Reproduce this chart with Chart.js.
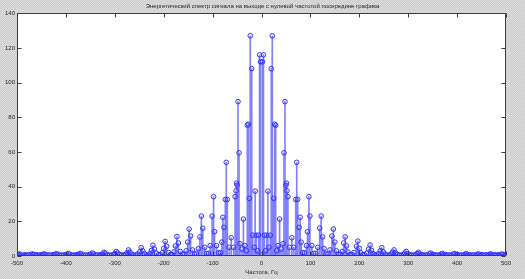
<!DOCTYPE html>
<html>
<head>
<meta charset="utf-8">
<script src="https://cdn.jsdelivr.net/npm/chart.js@4.4.1/dist/chart.umd.min.js"></script>
<style>
html, body { margin: 0; padding: 0; }
body {
    width: 525px; height: 279px; overflow: hidden;
    background: repeating-conic-gradient(#cdcdcd 0 25%, #dcdcdc 0 50%) 0 0/2px 2px;
}
#wrap { position: relative; width: 525px; height: 279px; }
</style>
</head>
<body>
<div id="wrap"><canvas id="spectrum"></canvas></div>
<script>
// frequency of each stem, Hz (one row per spectral lobe)
const freqHz = [
    -500, -497, -494, -491, -487, -484,
    -480, -476, -472, -469, -466, -462, -459,
    -455, -451, -448, -445, -442, -438, -434,
    -430, -426, -423, -420, -417, -413, -409,
    -405, -401, -398, -395, -392, -388, -384,
    -380, -377, -374, -371, -368, -364, -360,
    -356, -352, -349, -346, -343, -339, -335,
    -331, -328, -325, -322, -319, -315, -311,
    -307, -303, -300, -297, -294, -290, -286,
    -282, -278, -275, -272, -269, -265, -261,
    -257, -253, -249, -246, -243, -239, -235,
    -232, -228, -225, -222, -219, -215, -211,
    -207, -203, -200, -197, -194, -190, -186,
    -183, -179, -176, -173, -170, -166, -162,
    -158, -154, -151, -148, -145, -141, -137,
    -133, -129, -126, -123, -120, -116, -112,
    -108, -105, -101, -98, -96, -92, -88,
    -84, -81, -79, -77, -74, -72, -70, -66, -62,
    -57, -54, -52, -51, -50, -48, -46, -44, -40,
    -37, -34, -31,
    -29, -27, -25, -23, -20, -18, -15,
    -13, -11, -8, -6, -4, -2, 0,
    2, 4, 6, 8, 11, 13,
    15, 18, 20, 22, 25, 27, 29,
    31, 34, 37,
    40, 44, 46, 48, 50, 51, 52, 54, 57,
    62, 66, 70, 72, 74, 77, 79, 81, 84,
    88, 92, 94, 97, 99, 103, 107,
    111, 115, 119, 122, 125, 128, 132,
    136, 140, 144, 147, 150, 153, 157,
    161, 165, 168, 171, 174, 177, 181,
    185, 189, 194, 197, 200, 203, 207,
    211, 215, 219, 222, 225, 228, 232,
    235, 239, 243, 246, 249, 253, 257,
    261, 265, 268, 271, 274, 278, 282,
    286, 290, 293, 296, 299, 303, 307,
    311, 315, 318, 321, 324, 328, 331,
    335, 339, 343, 346, 349, 352, 356,
    360, 364, 367, 370, 373, 377, 380,
    384, 388, 392, 395, 398, 401, 405,
    409, 413, 416, 419, 422, 426, 430,
    434, 438, 441, 444, 447, 451, 455,
    459, 463, 466, 469, 472, 476, 480,
    484, 487, 491, 494, 497, 500
];

// energy at each of those frequencies
const energy = [
    0.4, 0.9, 1.1, 0.4, 0.3, 0.8,
    0.3, 0.8, 0.5, 1.2, 0.9, 0.3, 0.7,
    0.3, 0.8, 0.5, 1.2, 0.9, 0.3, 0.7,
    0.3, 0.8, 0.6, 1.3, 1.0, 0.4, 0.6,
    0.4, 0.8, 0.6, 1.4, 1.0, 0.4, 0.6,
    0.4, 0.8, 0.7, 1.5, 1.1, 0.4, 0.6,
    0.4, 0.8, 0.9, 1.7, 1.2, 0.5, 0.6,
    0.4, 0.8, 1.1, 2.1, 1.4, 0.6, 0.6,
    0.4, 0.8, 1.4, 2.6, 1.7, 0.8, 0.5,
    0.5, 0.9, 1.8, 3.5, 2.2, 1.0, 0.5,
    0.5, 1.1, 2.4, 4.8, 3.0, 1.3, 0.6,
    0.6, 1.4, 3.2, 6.2, 4.0, 1.6, 0.7,
    0.7, 1.8, 4.4, 8.4, 5.6, 2.0, 0.8,
    0.8, 2.3, 5.8, 11.2, 7.5, 2.6, 1.0,
    1.0, 3.0, 8.0, 15.5, 11.5, 3.5, 1.2,
    1.2, 4.2, 11.0, 23.0, 16.0, 5.0, 1.5,
    1.5, 6.0, 23.0, 34.2, 14.0, 6.0, 1.8,
    2.0, 8.0, 22.3, 16.5, 32.6, 54.0, 32.6, 5.0, 10.5,
    5.0, 34.2, 37.6, 42.0, 40.8, 89.0, 59.5, 7.1, 4.0,
    21.3, 6.0, 3.0,
    75.4, 76.0, 33.2, 127.0, 108.0, 12.0, 5.0,
    37.4, 12.0, 3.0, 12.0, 116.0, 112.0, 0.5,
    112.0, 116.0, 12.0, 3.0, 12.0, 37.4,
    5.0, 12.0, 108.0, 127.0, 33.2, 76.0, 75.4,
    3.0, 6.0, 21.3,
    4.0, 7.1, 59.5, 89.0, 40.8, 42.0, 37.6, 34.2, 5.0,
    10.5, 5.0, 32.6, 54.0, 32.6, 16.5, 22.3, 8.0, 2.0,
    1.8, 6.0, 14.0, 34.2, 23.0, 6.0, 1.5,
    1.5, 5.0, 16.0, 23.0, 11.0, 4.2, 1.2,
    1.2, 3.5, 11.5, 15.5, 8.0, 3.0, 1.0,
    1.0, 2.6, 7.5, 11.0, 5.8, 2.3, 0.8,
    0.8, 2.0, 5.6, 8.6, 4.4, 1.8, 0.7,
    0.7, 1.6, 4.0, 6.3, 3.2, 1.4, 0.6,
    0.6, 1.3, 3.0, 4.8, 2.4, 1.1, 0.5,
    0.5, 1.0, 2.2, 3.5, 1.8, 0.9, 0.5,
    0.5, 0.8, 1.7, 2.6, 1.4, 0.8, 0.4,
    0.6, 0.6, 1.4, 2.1, 1.1, 0.8, 0.4,
    0.6, 0.5, 1.2, 1.7, 0.9, 0.8, 0.4,
    0.6, 0.4, 1.1, 1.5, 0.7, 0.8, 0.4,
    0.6, 0.4, 1.0, 1.4, 0.6, 0.8, 0.4,
    0.6, 0.4, 1.0, 1.3, 0.6, 0.8, 0.3,
    0.7, 0.3, 0.9, 1.2, 0.5, 0.8, 0.3,
    0.7, 0.3, 0.9, 1.2, 0.5, 0.8, 0.3,
    0.8, 0.3, 1.1, 0.9, 0.4, 0.4
];

const xTicks = [-500, -400, -300, -200, -100, 0, 100, 200, 300, 400, 500];
const yTicks = [0, 20, 40, 60, 80, 100, 120, 140];

const titleText = 'Энергетический спектр сигнала на выходе с нулевой частотой посередине графика';
const xLabel = 'Частота, Гц';

const points = freqHz.map((f, i) => ({ x: f, y: energy[i] }));

const FONT = { family: 'Liberation Sans, Arial, sans-serif', size: 6 };

// white axes box, drawn box border and matlab-style inner tick marks
const matlabAxes = {
    id: 'matlabAxes',
    beforeDatasetsDraw(chart) {
        const a = chart.chartArea;
        const ctx = chart.ctx;
        ctx.save();
        ctx.fillStyle = '#ffffff';
        ctx.fillRect(a.left, a.top, a.right - a.left, a.bottom - a.top);
        ctx.restore();
    },
    afterDraw(chart) {
        const a = chart.chartArea;
        const ctx = chart.ctx;
        const xs = chart.scales.x, ys = chart.scales.y;
        const L = Math.round(a.left) + 0.5, R = Math.round(a.right) - 0.5;
        const T = Math.round(a.top) + 0.5, B = Math.round(a.bottom) - 0.5;
        ctx.save();
        ctx.strokeStyle = '#3c3c3c';
        ctx.lineWidth = 1;
        ctx.beginPath();
        ctx.rect(L, T, R - L, B - T);
        xTicks.forEach(v => {
            const px = Math.round(xs.getPixelForValue(v)) + 0.5;
            ctx.moveTo(px, B); ctx.lineTo(px, B - 4);
            ctx.moveTo(px, T); ctx.lineTo(px, T + 4);
        });
        yTicks.forEach(v => {
            const py = Math.round(ys.getPixelForValue(v)) + 0.5;
            ctx.moveTo(L, py); ctx.lineTo(L + 4, py);
            ctx.moveTo(R, py); ctx.lineTo(R - 4, py);
        });
        ctx.stroke();
        ctx.restore();
    }
};

new Chart(document.getElementById('spectrum'), {
    type: 'scatter',
    data: {
        datasets: [{
            type: 'bar',
            data: points,
            backgroundColor: '#8080ff',
            borderWidth: 0,
            barThickness: 1,
            order: 2
        }, {
            type: 'scatter',
            data: points,
            pointStyle: 'circle',
            pointRadius: 2.3,
            borderWidth: 1,
            borderColor: '#2f2fff',
            backgroundColor: 'rgba(0,0,0,0)',
            order: 1
        }]
    },
    options: {
        responsive: true,
        maintainAspectRatio: false,
        devicePixelRatio: 1,
        animation: false,
        events: [],
        layout: { padding: 0 },
        plugins: {
            legend: { display: false },
            tooltip: { enabled: false },
            title: {
                display: true,
                text: titleText,
                color: '#1e1e1e',
                font: { family: FONT.family, size: 6, weight: 'normal', lineHeight: 1.2 },
                padding: { top: 3, bottom: 3 }
            }
        },
        scales: {
            x: {
                type: 'linear',
                min: -500,
                max: 500,
                offset: false,
                afterBuildTicks: s => { s.ticks = xTicks.map(v => ({ value: v })); },
                afterFit: s => { s.height = 23; },
                grid: { display: false, drawTicks: false, offset: false },
                border: { display: false },
                ticks: { font: FONT, color: '#1e1e1e', padding: 4, maxRotation: 0, autoSkip: false },
                title: {
                    display: true,
                    text: xLabel,
                    color: '#1e1e1e',
                    font: FONT,
                    padding: { top: 0, bottom: 3 }
                }
            },
            y: {
                type: 'linear',
                min: 0,
                max: 140,
                afterBuildTicks: s => { s.ticks = yTicks.map(v => ({ value: v })); },
                afterFit: s => { s.width = 17; },
                grid: { display: false, drawTicks: false },
                border: { display: false },
                ticks: { font: FONT, color: '#1e1e1e', padding: 2 }
            },
            // empty right-hand margin so the title stays centred on the figure
            yRight: {
                type: 'linear',
                position: 'right',
                min: 0,
                max: 140,
                afterFit: s => { s.width = 19; },
                grid: { display: false, drawTicks: false },
                border: { display: false },
                ticks: { display: false }
            }
        }
    },
    plugins: [matlabAxes]
});
</script>
</body>
</html>
